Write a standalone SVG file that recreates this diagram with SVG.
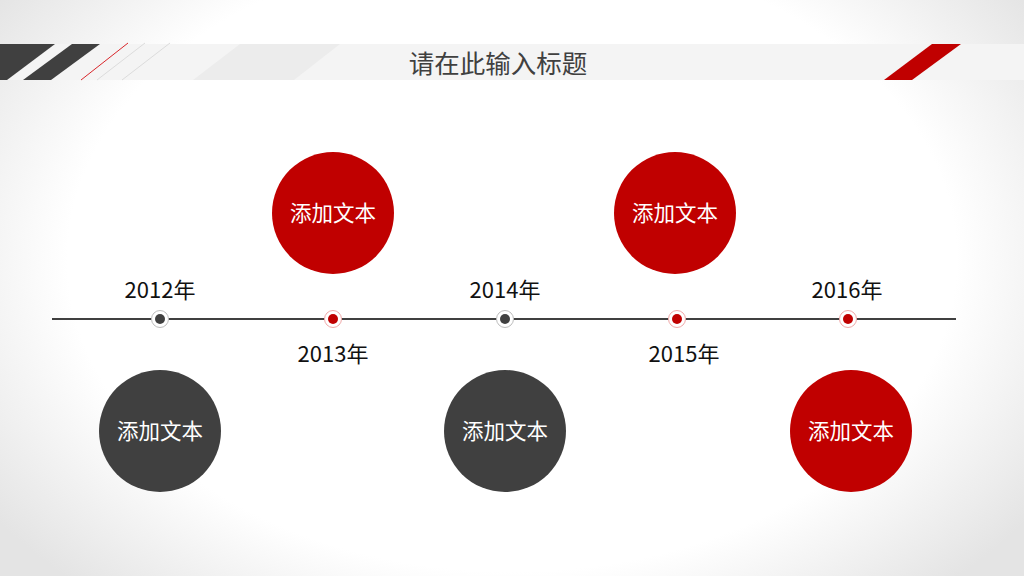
<svg xmlns="http://www.w3.org/2000/svg" width="1024" height="576" viewBox="0 0 1024 576">
<defs>
<radialGradient id="bg" cx="0.5" cy="0.45" r="0.62" gradientTransform="translate(0.5 0.45) scale(1 1.25) translate(-0.5 -0.45)">
<stop offset="0" stop-color="#ffffff"/>
<stop offset="0.7" stop-color="#ffffff"/>
<stop offset="1" stop-color="#e4e4e4"/>
</radialGradient>
<style>
.yr{font-family:"Noto Sans CJK SC","Noto Sans",sans-serif;font-size:22px;fill:#111111;text-anchor:middle}
.lbl{font-family:"Noto Sans CJK SC","Noto Sans",sans-serif;font-size:21.5px;fill:#ffffff;text-anchor:middle}
.red{fill:#c00000}
.dark{fill:#404040}
.ringd{fill:#ffffff;stroke:#bdbdbd;stroke-width:1}
.ringr{fill:#ffffff;stroke:#f0a8a8;stroke-width:1}
</style>
</defs>
<rect width="1024" height="576" fill="url(#bg)"/>
<g id="header">
<rect x="0" y="44" width="1024" height="36" fill="#f4f4f4"/>
<polygon points="240,44 340,44 294,80 193,80" fill="#ececec"/>
<polygon points="0,44 55,44 7,80 0,80" fill="#404040"/>
<polygon points="72,44 100,44 51,80 23,80" fill="#404040"/>
<line x1="81" y1="80" x2="128" y2="43" stroke="#d9262b" stroke-width="1"/>
<line x1="97" y1="80" x2="145" y2="43" stroke="#dcdcdc" stroke-width="1"/>
<line x1="122" y1="80" x2="170" y2="43" stroke="#dcdcdc" stroke-width="1"/>
<polygon points="932,44 961,44 912,80 884,80" fill="#c00000"/>
<text x="498" y="73" font-family="'Noto Sans CJK SC','Noto Sans',sans-serif" font-size="25.5" fill="#404040" text-anchor="middle">请在此输入标题</text>
</g>
<g id="connectors">
<line x1="52" y1="319" x2="956" y2="319" stroke="#000000" stroke-width="1.6"/>
</g>
<g id="dot2012"><circle cx="160" cy="319" r="8.5" class="ringd"/><circle cx="160" cy="319" r="5" class="dark"/><text x="160" y="298" class="yr">2012年</text></g>
<g id="dot2013"><circle cx="333" cy="319" r="8.5" class="ringr"/><circle cx="333" cy="319" r="5" class="red"/><text x="333" y="362" class="yr">2013年</text></g>
<g id="dot2014"><circle cx="505" cy="319" r="8.5" class="ringd"/><circle cx="505" cy="319" r="5" class="dark"/><text x="505" y="298" class="yr">2014年</text></g>
<g id="dot2015"><circle cx="677" cy="319" r="8.5" class="ringr"/><circle cx="677" cy="319" r="5" class="red"/><text x="684" y="362" class="yr">2015年</text></g>
<g id="dot2016"><circle cx="848" cy="319" r="8.5" class="ringr"/><circle cx="848" cy="319" r="5" class="red"/><text x="847" y="298" class="yr">2016年</text></g>
<g id="c2013"><circle cx="333" cy="213" r="61" class="red"/><text x="333" y="221" class="lbl">添加文本</text></g>
<g id="c2015"><circle cx="675" cy="213" r="61" class="red"/><text x="675" y="221" class="lbl">添加文本</text></g>
<g id="c2012"><circle cx="160" cy="431" r="61" class="dark"/><text x="160" y="439" class="lbl">添加文本</text></g>
<g id="c2014"><circle cx="505" cy="431" r="61" class="dark"/><text x="505" y="439" class="lbl">添加文本</text></g>
<g id="c2016"><circle cx="851" cy="431" r="61" class="red"/><text x="851" y="439" class="lbl">添加文本</text></g>
</svg>
